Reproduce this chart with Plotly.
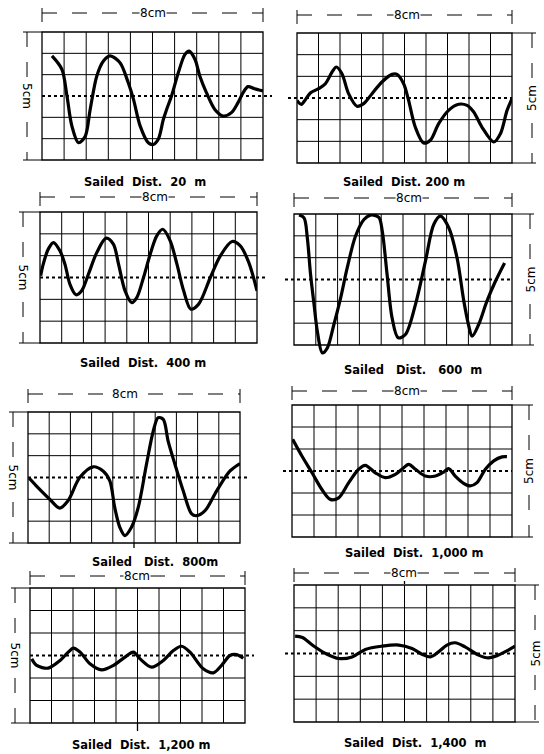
import plotly.graph_objects as go

W, H = 544, 754

# ---------------- data (grid units: x 0..10 columns, y -3..3 rows) ----------------
captions = ["Sailed  Dist.  20  m", "Sailed  Dist. 200 m", "Sailed  Dist.  400 m",
            "Sailed   Dist.   600  m", "Sailed   Dist.  800m", "Sailed  Dist.  1,000 m",
            "Sailed  Dist.  1,200 m", "Sailed  Dist.  1,400  m"]
width_label = "8cm"
height_label = "5cm"

x_20m = [0.45, 0.9, 1.13, 1.35, 1.65, 1.95, 2.18, 2.48, 2.78, 3.08, 3.53, 3.9, 4.14, 4.44, 4.81,
         5.04, 5.26, 5.49, 5.64, 5.86, 6.17, 6.47, 6.66, 6.92, 7.14, 7.44, 7.82, 8.2, 8.57, 8.87,
         9.1, 9.32, 9.62, 10.0]
y_20m = [1.88, 1.25, 0.0, -1.4, -2.19, -1.9, -0.63, 0.94, 1.64, 1.88, 1.56, 0.63, -0.16, -1.4, -2.19,
         -2.27, -2.03, -1.1, -0.63, 0.0, 1.1, 1.95, 2.1, 1.72, 0.94, 0.16, -0.63, -0.94, -0.78, -0.31,
         0.16, 0.44, 0.34, 0.24]

x_200m = [0.0, 0.2, 0.39, 0.62, 1.0, 1.32, 1.63, 1.83, 2.09, 2.4, 2.79, 3.1, 3.49, 3.95, 4.42, 4.65,
          4.96, 5.19, 5.5, 5.89, 6.2, 6.59, 7.05, 7.52, 7.91, 8.22, 8.6, 9.15, 9.46, 9.77, 10.0]
y_200m = [-0.11, -0.29, -0.08, 0.23, 0.43, 0.66, 1.2, 1.43, 1.12, 0.2, -0.38, -0.26, 0.2, 0.74, 1.09, 1.09,
          0.66, -0.11, -1.34, -2.08, -1.95, -1.18, -0.57, -0.29, -0.34, -0.65, -1.34, -2.03, -1.65, -0.57, -0.03]

x_400m = [0.03, 0.15, 0.38, 0.62, 0.92, 1.15, 1.38, 1.66, 1.92, 2.23, 2.62, 3.05, 3.38, 3.62, 3.92, 4.23,
          4.46, 4.77, 5.08, 5.38, 5.66, 6.0, 6.31, 6.62, 6.95, 7.31, 7.85, 8.31, 8.85, 9.23, 9.62, 10.0]
y_400m = [0.08, 0.61, 1.3, 1.6, 1.22, 0.61, -0.31, -0.79, -0.61, 0.15, 1.15, 1.8, 1.53, 0.61, -0.61, -1.15,
          -0.92, 0.0, 1.07, 1.91, 2.21, 1.68, 0.61, -0.61, -1.45, -1.22, 0.0, 0.99, 1.65, 1.45, 0.69, -0.61]

x_600m = [0.23, 0.46, 0.61, 0.76, 0.92, 1.07, 1.3, 1.53, 1.83, 2.14, 2.44, 2.82, 3.21, 3.51, 3.89, 4.05,
          4.27, 4.5, 4.78, 5.11, 5.57, 6.03, 6.41, 6.72, 7.1, 7.48, 7.79, 8.02, 8.17, 8.47, 8.85, 9.24, 9.66]
y_600m = [2.95, 2.82, 1.91, 0.23, -1.15, -2.37, -3.36, -3.13, -2.06, -0.84, 0.53, 1.98, 2.75, 2.95, 2.85, 2.21,
          0.23, -1.76, -2.67, -2.52, -1.15, 0.84, 2.52, 2.9, 2.37, 0.99, -0.99, -2.14, -2.6, -2.06, -0.99, -0.08, 0.76]

x_800m = [0.05, 0.39, 1.02, 1.5, 1.89, 2.44, 3.07, 3.54, 3.86, 4.09, 4.33, 4.57, 4.88, 5.2, 5.59, 5.91,
          6.14, 6.38, 6.61, 6.93, 7.32, 7.72, 7.95, 8.35, 8.9, 9.53, 10.0]
y_800m = [-0.03, -0.38, -0.99, -1.4, -1.06, 0.0, 0.49, 0.3, -0.15, -1.37, -2.28, -2.66, -2.28, -1.37, 0.61, 2.13,
          2.74, 2.66, 1.67, 0.61, -0.61, -1.67, -1.75, -1.52, -0.61, 0.3, 0.64]

x_1000m = [0.03, 0.45, 0.91, 1.36, 1.74, 2.12, 2.58, 3.03, 3.33, 3.79, 4.24, 4.7, 5.08, 5.3, 5.61, 6.06,
           6.52, 6.89, 7.12, 7.42, 7.8, 8.1, 8.41, 8.79, 9.17, 9.55, 9.77]
y_1000m = [1.44, 0.68, -0.08, -0.84, -1.29, -1.22, -0.53, 0.08, 0.26, -0.08, -0.3, -0.15, 0.15, 0.3, 0.08, -0.23,
           -0.23, -0.05, 0.11, -0.23, -0.56, -0.68, -0.53, 0.08, 0.46, 0.64, 0.65]

x_1200m = [0.08, 0.31, 0.85, 1.4, 1.78, 2.02, 2.33, 2.79, 3.33, 3.88, 4.42, 4.81, 5.12, 5.66, 6.2, 6.67,
           7.05, 7.44, 8.06, 8.53, 8.91, 9.3, 9.61, 9.92]
y_1200m = [-0.15, -0.44, -0.56, -0.22, 0.15, 0.33, 0.15, -0.37, -0.64, -0.44, -0.07, 0.15, -0.15, -0.52, -0.22, 0.22,
           0.41, 0.15, -0.59, -0.77, -0.44, 0.0, 0.04, -0.12]

x_1400m = [0.05, 0.38, 0.83, 1.43, 2.03, 2.63, 3.23, 3.98, 4.74, 5.34, 5.79, 6.17, 6.54, 6.92, 7.29, 7.74,
           8.35, 8.8, 9.25, 9.7, 10.0]
y_1400m = [0.76, 0.7, 0.37, 0.0, -0.22, -0.15, 0.18, 0.32, 0.37, 0.22, -0.03, -0.15, 0.07, 0.37, 0.47, 0.29,
           -0.07, -0.19, -0.07, 0.15, 0.32]

series = [(x_20m, y_20m), (x_200m, y_200m), (x_400m, y_400m), (x_600m, y_600m),
          (x_800m, y_800m), (x_1000m, y_1000m), (x_1200m, y_1200m), (x_1400m, y_1400m)]
x_grid = [1, 2, 3, 4, 5, 6, 7, 8, 9]
y_grid = [-2, -1, 1, 2]

# ---------------- layout geometry (pixels) ----------------
# ymin: lower limit of the axis (grid itself always spans -3..3)
# ext_top / ext_bot: how far the middle vertical grid line pokes out of the box
panels = [
    dict(L=42, R=263, T=32, B=160, side="left", y8=13, x5=27, lx8=153, cx=145, cy=182, ymin=-3, ext_top=0, ext_bot=0),
    dict(L=297, R=512, T=33, B=163, side="right", y8=15, x5=532, lx8=407, cx=404, cy=182, ymin=-3, ext_top=0, ext_bot=0),
    dict(L=40, R=257, T=212, B=343, side="left", y8=197, x5=23, lx8=155, cx=143, cy=363, ymin=-3, ext_top=0, ext_bot=0),
    dict(L=294, R=512, T=214, B=345, side="right", y8=198, x5=530, lx8=409, cx=413, cy=370, ymin=-3.5, ext_top=0, ext_bot=0),
    dict(L=28, R=240, T=412, B=543, side="left", y8=394, x5=13, lx8=125, cx=155, cy=562, ymin=-3, ext_top=0, ext_bot=5),
    dict(L=292, R=512, T=405, B=537, side="right", y8=391, x5=529, lx8=407, cx=414, cy=553, ymin=-3, ext_top=0, ext_bot=0),
    dict(L=30, R=245, T=588, B=723, side="left", y8=576, x5=15, lx8=137, cx=141, cy=745, ymin=-3, ext_top=0, ext_bot=8),
    dict(L=294, R=515, T=585, B=722, side="right", y8=573, x5=535, lx8=404, cx=415, cy=743, ymin=-3, ext_top=16, ext_bot=0),
]


def px(x):
    return x / W


def py(y):
    return 1 - y / H


fig = go.Figure()
shapes = []
annotations = []
font_main = "DejaVu Sans, Arial, sans-serif"
grid_line = dict(color="black", width=1)

for i, (p, (xs, ys)) in enumerate(zip(panels, series)):
    n = i + 1
    sfx = "" if n == 1 else str(n)
    unit = (p["B"] - p["T"]) / 6.0
    bottom_px = p["B"] + (-3 - p["ymin"]) * unit
    fig.layout["xaxis" + sfx] = dict(
        domain=[px(p["L"]), px(p["R"])], range=[0, 10], anchor="y" + sfx,
        visible=False, showgrid=False, zeroline=False, fixedrange=True)
    fig.layout["yaxis" + sfx] = dict(
        domain=[py(bottom_px), py(p["T"])], range=[p["ymin"], 3], anchor="x" + sfx,
        visible=False, showgrid=False, zeroline=False, fixedrange=True)
    fig.add_trace(go.Scatter(
        x=xs, y=ys, mode="lines",
        line=dict(color="black", width=3.2, shape="spline", smoothing=0.9),
        xaxis="x" + sfx, yaxis="y" + sfx, showlegend=False, hoverinfo="skip"))

    # grid lines (data coordinates of this panel)
    for gx in x_grid:
        shapes.append(dict(type="line", xref="x" + sfx, yref="y" + sfx, layer="below",
                           x0=gx, x1=gx, y0=-3, y1=3, line=grid_line))
    for gy in y_grid:
        shapes.append(dict(type="line", xref="x" + sfx, yref="y" + sfx, layer="below",
                           x0=0, x1=10, y0=gy, y1=gy, line=grid_line))

    # grid box
    shapes.append(dict(type="rect", xref="paper", yref="paper",
                       x0=px(p["L"]), x1=px(p["R"]), y0=py(p["B"]), y1=py(p["T"]),
                       line=dict(color="black", width=1.3)))
    # middle vertical line poking out
    xm = (p["L"] + p["R"]) / 2.0
    if p["ext_bot"]:
        shapes.append(dict(type="line", xref="paper", yref="paper",
                           x0=px(xm), x1=px(xm), y0=py(p["B"]), y1=py(p["B"] + p["ext_bot"]),
                           line=dict(color="black", width=1.3)))
    if p["ext_top"]:
        shapes.append(dict(type="line", xref="paper", yref="paper",
                           x0=px(xm), x1=px(xm), y0=py(p["T"] - p["ext_top"]), y1=py(p["T"]),
                           line=dict(color="black", width=1.3, dash="dot")))
    # dotted centre line
    yc = (p["T"] + p["B"]) / 2.0
    if p["side"] == "left":
        cx0, cx1 = p["L"], p["R"] + 9
    else:
        cx0, cx1 = p["L"] - 9, p["R"]
    shapes.append(dict(type="line", xref="paper", yref="paper",
                       x0=px(cx0), x1=px(cx1), y0=py(yc), y1=py(yc),
                       line=dict(color="black", width=1.8, dash="dot")))
    # 8cm dimension line
    shapes.append(dict(type="line", xref="paper", yref="paper",
                       x0=px(p["L"]), x1=px(p["R"]), y0=py(p["y8"]), y1=py(p["y8"]),
                       line=dict(color="black", width=1, dash="longdash")))
    for xe in (p["L"], p["R"]):
        shapes.append(dict(type="line", xref="paper", yref="paper",
                           x0=px(xe), x1=px(xe), y0=py(p["y8"] - 5), y1=py(p["y8"] + 9),
                           line=dict(color="black", width=1)))
    annotations.append(dict(text=width_label, xref="paper", yref="paper",
                            x=px(p["lx8"]), y=py(p["y8"]), showarrow=False,
                            xanchor="center", yanchor="middle", bgcolor="white",
                            borderpad=0, font=dict(family=font_main, size=12, color="black")))
    # 5cm dimension line
    shapes.append(dict(type="line", xref="paper", yref="paper",
                       x0=px(p["x5"]), x1=px(p["x5"]), y0=py(p["T"]), y1=py(p["B"]),
                       line=dict(color="black", width=1, dash="longdash")))
    for ye in (p["T"], p["B"]):
        if p["side"] == "left":
            tx0, tx1 = p["x5"] - 4, p["L"]
        else:
            tx0, tx1 = p["R"], p["x5"] + 4
        shapes.append(dict(type="line", xref="paper", yref="paper",
                           x0=px(tx0), x1=px(tx1), y0=py(ye), y1=py(ye),
                           line=dict(color="black", width=1)))
    annotations.append(dict(text=height_label, xref="paper", yref="paper",
                            x=px(p["x5"]), y=py(yc), showarrow=False,
                            xanchor="center", yanchor="middle", bgcolor="white",
                            textangle=90 if p["side"] == "left" else -90, borderpad=0,
                            font=dict(family=font_main, size=12, color="black")))
    # caption
    annotations.append(dict(text="<b>" + captions[i].replace(" ", "\u00a0") + "</b>",
                            xref="paper", yref="paper", x=px(p["cx"]), y=py(p["cy"]),
                            showarrow=False, xanchor="center", yanchor="middle",
                            font=dict(family=font_main, size=11.5, color="black")))

fig.update_layout(
    width=W, height=H, margin=dict(l=0, r=0, t=0, b=0),
    paper_bgcolor="white", plot_bgcolor="rgba(0,0,0,0)",
    shapes=shapes, annotations=annotations, showlegend=False)

fig.write_html("out.html", config={"displayModeBar": False},
               post_script="document.body.style.margin='0';document.body.style.overflow='hidden';")
